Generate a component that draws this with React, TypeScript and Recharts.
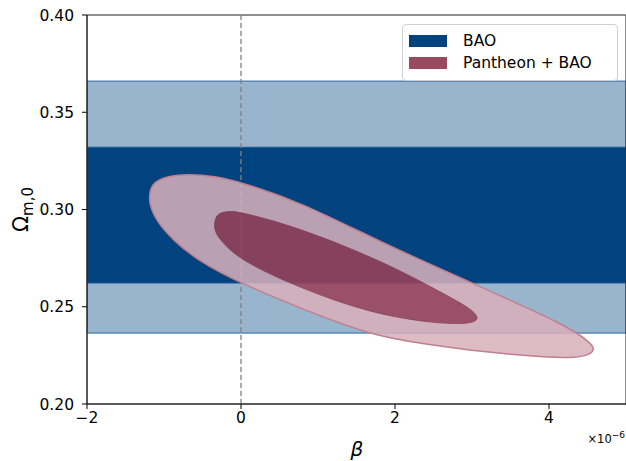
import { ComposedChart, Scatter, XAxis, YAxis, ReferenceArea, ReferenceLine } from 'recharts';

// beta in units of 1e-6, Omega_m,0
const xTicks = [-2, 0, 2, 4];
const yTicks = [0.2, 0.25, 0.3, 0.35, 0.4];

// BAO constraint bands on Omega_m,0 (1 and 2 sigma)
const baoOuter = [0.2365, 0.366];
const baoInner = [0.2622, 0.332];

// Pantheon + BAO contours (2 sigma outer, 1 sigma inner)
const outerContour = [
  { x: -1.19, y: 0.3085 },
  { x: -1.14, y: 0.3141 },
  { x: -0.95, y: 0.3172 },
  { x: -0.701, y: 0.3182 },
  { x: -0.338, y: 0.3172 },
  { x: 0.013, y: 0.3138 },
  { x: 0.766, y: 0.3039 },
  { x: 1.805, y: 0.2833 },
  { x: 2.974, y: 0.2627 },
  { x: 4.273, y: 0.2396 },
  { x: 4.52, y: 0.2319 },
  { x: 4.6, y: 0.2285 },
  { x: 4.53, y: 0.2252 },
  { x: 4.338, y: 0.2238 },
  { x: 4.013, y: 0.2238 },
  { x: 3.195, y: 0.2265 },
  { x: 2.325, y: 0.2312 },
  { x: 1.675, y: 0.2355 },
  { x: 0.727, y: 0.2499 },
  { x: -0.013, y: 0.2622 },
  { x: -0.571, y: 0.274 },
  { x: -0.883, y: 0.2843 },
  { x: -1.09, y: 0.2936 },
  { x: -1.19, y: 0.3023 },
];

const innerContour = [
  { x: -0.35, y: 0.2931 },
  { x: -0.31, y: 0.2982 },
  { x: -0.143, y: 0.2992 },
  { x: 0.013, y: 0.2985 },
  { x: 0.727, y: 0.291 },
  { x: 1.805, y: 0.274 },
  { x: 2.545, y: 0.2586 },
  { x: 2.974, y: 0.2494 },
  { x: 3.1, y: 0.2442 },
  { x: 3.01, y: 0.2412 },
  { x: 2.545, y: 0.2412 },
  { x: 1.675, y: 0.2466 },
  { x: 0.727, y: 0.2602 },
  { x: -0.013, y: 0.274 },
  { x: -0.247, y: 0.2833 },
  { x: -0.34, y: 0.2884 },
];

// outer ring = outer contour with the inner one cut out
const ringData = [...outerContour, ...innerContour];

const legendItems = [
  { name: 'BAO', color: '#00437f' },
  { name: 'Pantheon + BAO', color: '#9a4a5e' },
];

const FONT = '"DejaVu Sans", sans-serif';

const fmtX = (v: number) => (v < 0 ? '\u2212' + Math.abs(v) : String(v));

// closed uniform B-spline through pixel points (same as d3 basisClosed)
function closedSpline(pts: { x: number; y: number }[]) {
  const n = pts.length;
  const p = (i: number) => pts[((i % n) + n) % n];
  let d = '';
  for (let i = 0; i < n; i++) {
    const p0 = p(i - 1), p1 = p(i), p2 = p(i + 1), p3 = p(i + 2);
    const sx = (p0.x + 4 * p1.x + p2.x) / 6, sy = (p0.y + 4 * p1.y + p2.y) / 6;
    const c1x = (2 * p1.x + p2.x) / 3, c1y = (2 * p1.y + p2.y) / 3;
    const c2x = (p1.x + 2 * p2.x) / 3, c2y = (p1.y + 2 * p2.y) / 3;
    const ex = (p1.x + 4 * p2.x + p3.x) / 6, ey = (p1.y + 4 * p2.y + p3.y) / 6;
    if (i === 0) d += `M${sx},${sy}`;
    d += `C${c1x},${c1y},${c2x},${c2y},${ex},${ey}`;
  }
  return d + 'Z';
}

function RingLine(props: any) {
  const pts = props.points || [];
  const outer = pts.slice(0, outerContour.length);
  const inner = pts.slice(outerContour.length);
  const outerD = closedSpline(outer);
  return (
    <g>
      <path d={outerD + closedSpline(inner)} fill="#d7b0ba" fillOpacity={0.86} fillRule="evenodd" stroke="none" />
      <path d={outerD} fill="none" stroke="#c07f8f" strokeWidth={1.5} />
    </g>
  );
}

function InnerLine(props: any) {
  const pts = props.points || [];
  return <path d={closedSpline(pts)} fill="#9a4259" fillOpacity={0.87} stroke="#93425a" strokeWidth={0.8} />;
}

function YLabel({ viewBox }: any) {
  const cx = 28;
  const cy = viewBox ? viewBox.y + viewBox.height / 2 : 210;
  return (
    <text x={cx} y={cy} transform={`rotate(-90 ${cx} ${cy})`} textAnchor="middle" fontFamily={FONT} fill="#000">
      <tspan fontSize={21}>Ω</tspan>
      <tspan fontSize={15} dy={5}>m,0</tspan>
    </text>
  );
}

function LegendBox() {
  return (
    <div
      style={{
        position: 'absolute',
        left: 402,
        top: 24,
        width: 216,
        height: 57,
        background: 'rgba(255,255,255,0.9)',
        border: '1px solid #d0d0d0',
        borderRadius: 4,
        boxSizing: 'border-box',
        padding: '5px 0 0 6px',
        fontFamily: FONT,
        fontSize: 15.5,
      }}
    >
      {legendItems.map((it) => (
        <div key={it.name} style={{ display: 'flex', alignItems: 'center', height: 22 }}>
          <span style={{ width: 38, height: 12, background: it.color, display: 'inline-block', marginRight: 16 }} />
          <span>{it.name}</span>
        </div>
      ))}
    </div>
  );
}

const noDot = () => <g />;

export default function App() {
  return (
    <div style={{ position: 'absolute', left: 0, top: 0, width: 626, height: 461 }}>
      <ComposedChart width={626} height={461} margin={{ top: 15, right: 0, bottom: 0, left: 0 }}>
        <XAxis
          type="number"
          dataKey="x"
          domain={[-2, 5]}
          ticks={xTicks}
          tickFormatter={fmtX}
          allowDataOverflow
          height={57}
          tickSize={5}
          tickMargin={3}
          stroke="#000"
          tick={{ fill: '#000', fontSize: 15.5, fontFamily: FONT }}
          axisLine={{ stroke: '#222', strokeWidth: 1 }}
        />
        <YAxis
          type="number"
          dataKey="y"
          domain={[0.2, 0.4]}
          ticks={yTicks}
          tickFormatter={(v: number) => v.toFixed(2)}
          allowDataOverflow
          width={87}
          tickSize={5}
          tickMargin={8}
          stroke="#000"
          tick={{ fill: '#000', fontSize: 15.5, fontFamily: FONT }}
          axisLine={{ stroke: '#222', strokeWidth: 1 }}
          label={<YLabel />}
        />
        <ReferenceArea
          x1={-2}
          x2={5}
          y1={baoOuter[0]}
          y2={baoOuter[1]}
          fill="#99b4cd"
          fillOpacity={1}
          stroke="#5a86b8"
          strokeWidth={1.5}
          ifOverflow="hidden"
        />
        <ReferenceArea
          x1={-2}
          x2={5}
          y1={baoInner[0]}
          y2={baoInner[1]}
          fill="#00437f"
          fillOpacity={1}
          stroke="#1f5a94"
          strokeWidth={1}
          ifOverflow="hidden"
        />
        <Scatter
          data={ringData}
          isAnimationActive={false}
          shape={noDot}
          line={RingLine}
          lineType="joint"
          legendType="none"
        />
        <Scatter
          data={innerContour}
          isAnimationActive={false}
          shape={noDot}
          line={InnerLine}
          lineType="joint"
          legendType="none"
        />
        <ReferenceLine x={0} stroke="#808080" strokeWidth={1.3} strokeDasharray="5 3" />
        <ReferenceArea
          x1={-2}
          x2={5}
          y1={0.2}
          y2={0.4}
          fill="none"
          stroke="#222"
          strokeWidth={1}
          ifOverflow="visible"
        />
        <text x={357} y={456} textAnchor="middle" fontFamily={FONT} fontStyle="italic" fontSize={20} fill="#000">
          β
        </text>
        <text x={625} y={443} textAnchor="end" fontFamily={FONT} fontSize={11.5} fill="#000">
          ×10<tspan dy={-5} fontSize={9}>−6</tspan>
        </text>
      </ComposedChart>
      <LegendBox />
    </div>
  );
}
